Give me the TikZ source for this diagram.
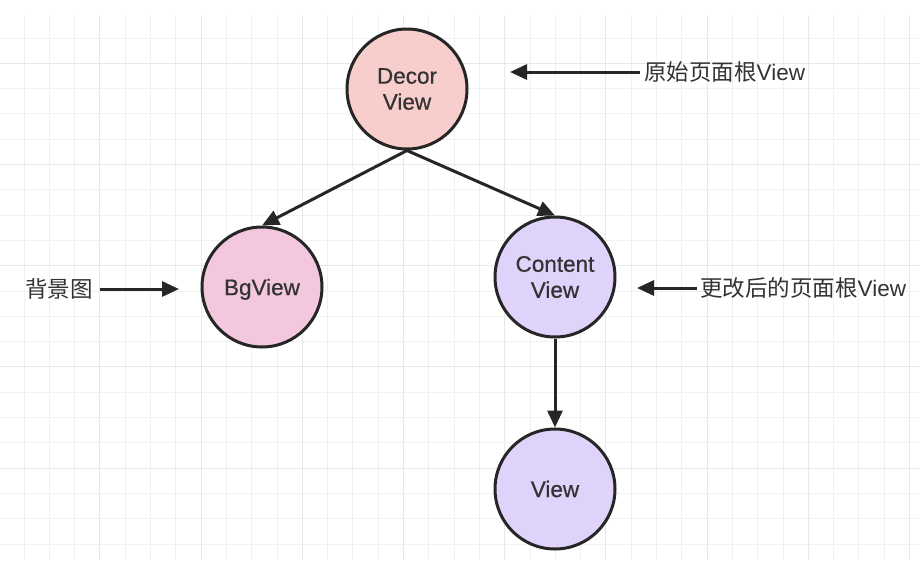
\documentclass[tikz,border=0pt]{standalone}
\usepackage{fontspec}
\setmainfont{Liberation Sans}
\newfontfamily\medfont{Liberation Sans}[FakeBold=0.6]
\newfontfamily\cjk{Noto Sans CJK SC}
\usetikzlibrary{arrows.meta}
\definecolor{inkc}{HTML}{262626}
\definecolor{txtc}{HTML}{333333}
\definecolor{decorc}{HTML}{F8CECC}
\definecolor{bgc}{HTML}{F3C8DF}
\definecolor{contc}{HTML}{DFD2FB}
\definecolor{gridminor}{HTML}{F1F1F1}
\definecolor{gridmajor}{HTML}{E8E8E8}
\tikzset{
  treenode/.style={circle, draw=inkc, line width=3pt, minimum size=120pt, inner sep=0pt,
    align=center, text=txtc, font=\medfont\fontsize{22.5}{26}\selectfont},
  conn/.style={draw=inkc, line width=3pt, -{Triangle[length=17pt,width=15pt]}},
  lbl/.style={text=txtc, font=\fontsize{22.5}{26}\selectfont}
}
\begin{document}
\begin{tikzpicture}[x=1pt,y=-1pt]
\useasboundingbox (0,0) rectangle (919,571);
\fill[white] (0,0) rectangle (919,571);
% grid
\foreach \i in {0,...,35}{
  \pgfmathtruncatemacro{\m}{mod(\i,4)}
  \ifnum\m=3
    \draw[gridmajor, line width=1pt] ({24+25.3*\i},15) -- ({24+25.3*\i},560);
  \else
    \draw[gridminor, line width=1pt] ({24+25.3*\i},15) -- ({24+25.3*\i},560);
  \fi
}
\foreach \j in {1,...,21}{
  \pgfmathtruncatemacro{\m}{mod(\j,4)}
  \ifnum\m=2
    \draw[gridmajor, line width=1pt] (0,{12.7+25.3*\j}) -- (919,{12.7+25.3*\j});
  \else
    \draw[gridminor, line width=1pt] (0,{12.7+25.3*\j}) -- (919,{12.7+25.3*\j});
  \fi
}
% nodes
\node[treenode, fill=decorc] (decor) at (407,89) {Decor\\View};
\node[treenode, fill=bgc, text depth=0pt] (bg) at (262,287) {BgView};
\node[treenode, fill=contc] (cont) at (555,277) {Content\\View};
\node[treenode, fill=contc] (view) at (555,489) {View};
% connectors
\draw[conn] (decor.south) -- (bg.north);
\draw[conn] (decor.south) -- (cont.north);
\draw[conn] (cont.south) -- (view.north);
% labels
\node[lbl, anchor=west, inner sep=4pt] (l1) at (640,72) {{\cjk 原始页面根}View};
\coordinate (t1) at (510,72);
\draw[conn] (l1.west) -- (t1);
\node[lbl, anchor=east, inner sep=7pt] (l2) at (100,289) {\cjk 背景图};
\coordinate (t2) at (179,289);
\draw[conn] (l2.east) -- (t2);
\node[lbl, anchor=west, inner sep=3pt] (l3) at (697,288) {{\cjk 更改后的页面根}View};
\coordinate (t3) at (637,288);
\draw[conn] (l3.west) -- (t3);
\end{tikzpicture}
\end{document}
